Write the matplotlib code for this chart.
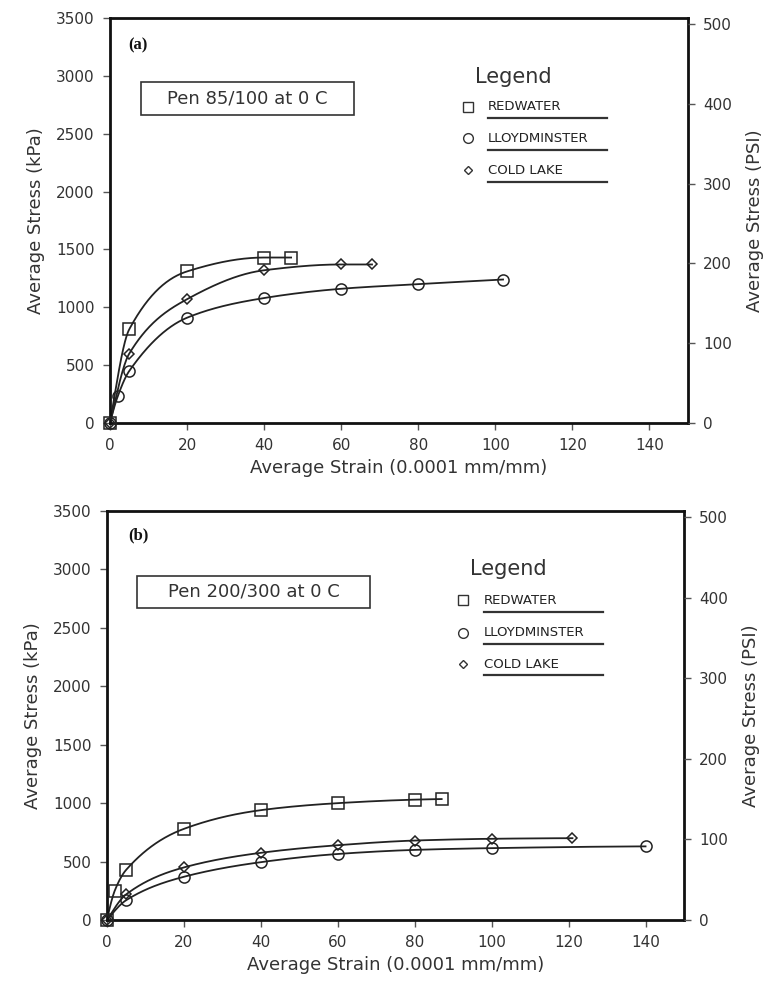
import numpy as np
import matplotlib
matplotlib.use("Agg")
import matplotlib.pyplot as plt

plt.rcParams['font.family'] = ['DejaVu Sans']

# ---------------- data ----------------
# Panel (a): Pen 85/100 at 0 C
a_red_x = [0, 5, 20, 40, 47]
a_red_y = [0, 810, 1310, 1430, 1430]
a_lloyd_x = [0, 2, 5, 20, 40, 60, 80, 102]
a_lloyd_y = [0, 230, 450, 910, 1080, 1160, 1200, 1240]
a_cold_x = [0, 5, 20, 40, 60, 68]
a_cold_y = [0, 600, 1070, 1320, 1370, 1370]

# Panel (b): Pen 200/300 at 0 C
b_red_x = [0, 2, 5, 20, 40, 60, 80, 87]
b_red_y = [0, 250, 430, 780, 940, 1000, 1030, 1035]
b_lloyd_x = [0, 5, 20, 40, 60, 80, 100, 140]
b_lloyd_y = [0, 170, 370, 495, 565, 600, 615, 630]
b_cold_x = [0, 5, 20, 40, 60, 80, 100, 121]
b_cold_y = [0, 220, 450, 575, 640, 680, 695, 700]

series_names = ["REDWATER", "LLOYDMINSTER", "COLD LAKE"]
panel_titles = ["(a)", "(b)"]
panel_boxes = ["Pen 85/100 at 0 C", "Pen 200/300 at 0 C"]
x_ticks = [0, 20, 40, 60, 80, 100, 120, 140]
kpa_ticks = [0, 500, 1000, 1500, 2000, 2500, 3000, 3500]
psi_ticks = [0, 100, 200, 300, 400, 500]
KPA_PER_PSI = 6.895


def pchip(x, y, xs):
    x = np.asarray(x, float); y = np.asarray(y, float)
    h = np.diff(x); d = np.diff(y) / h
    n = len(x)
    m = np.zeros(n)
    for k in range(1, n - 1):
        if d[k - 1] * d[k] <= 0:
            m[k] = 0.0
        else:
            w1 = 2 * h[k] + h[k - 1]
            w2 = h[k] + 2 * h[k - 1]
            m[k] = (w1 + w2) / (w1 / d[k - 1] + w2 / d[k])
    def endslope(h0, h1, d0, d1):
        s = ((2 * h0 + h1) * d0 - h0 * d1) / (h0 + h1)
        if np.sign(s) != np.sign(d0):
            s = 0.0
        elif np.sign(d0) != np.sign(d1) and abs(s) > abs(3 * d0):
            s = 3 * d0
        return s
    if n > 2:
        m[0] = endslope(h[0], h[1], d[0], d[1])
        m[-1] = endslope(h[-1], h[-2], d[-1], d[-2])
    else:
        m[:] = d[0]
    idx = np.clip(np.searchsorted(x, xs) - 1, 0, n - 2)
    t = (xs - x[idx]) / h[idx]
    h00 = 2 * t**3 - 3 * t**2 + 1
    h10 = t**3 - 2 * t**2 + t
    h01 = -2 * t**3 + 3 * t**2
    h11 = t**3 - t**2
    return h00 * y[idx] + h10 * h[idx] * m[idx] + h01 * y[idx + 1] + h11 * h[idx] * m[idx + 1]


W, H = 765, 984
fig = plt.figure(figsize=(W / 100, H / 100), dpi=100)

rects = [
    (110, 18, 688, 423),
    (107, 511, 684, 920),
]
legend_pos = [
    dict(lx=475, ly=77, mx=468, tx=488, ux0=488, ux1=607, ys=[107, 138, 170], uys=[118, 150, 182]),
    dict(lx=470, ly=569, mx=463, tx=484, ux0=484, ux1=603, ys=[600, 633, 664], uys=[612, 644, 675]),
]
box_pos = [(141, 82, 354, 115), (137, 576, 370, 608)]
title_pos = [(128, 45), (128, 535)]

data = [
    [(a_red_x, a_red_y), (a_lloyd_x, a_lloyd_y), (a_cold_x, a_cold_y)],
    [(b_red_x, b_red_y), (b_lloyd_x, b_lloyd_y), (b_cold_x, b_cold_y)],
]
markers = ['s', 'o', 'D']
msizes = [8, 8, 5.5]
txtc = '#333333'

def fx(px):
    return px / W

def fy(py):
    return 1 - py / H

for i in range(2):
    x0, y0, x1, y1 = rects[i]
    ax = fig.add_axes([fx(x0), fy(y1), (x1 - x0) / W, (y1 - y0) / H])
    ax.set_xlim(0, 150)
    ax.set_ylim(0, 3500)
    ax.set_xticks(x_ticks)
    ax.set_yticks(kpa_ticks)
    for sp in ax.spines.values():
        sp.set_linewidth(2.0)
        sp.set_color('#111111')
    ax.tick_params(direction='out', length=5, width=1, colors='#555555',
                   labelcolor=txtc, labelsize=11, pad=6)
    ax.set_xlabel("Average Strain (0.0001 mm/mm)", fontsize=13, color=txtc, labelpad=4)
    ax.set_ylabel("Average Stress (kPa)", fontsize=13, color=txtc, labelpad=8)

    for (xs, ys), mk, ms in zip(data[i], markers, msizes):
        xx = np.linspace(xs[0], xs[-1], 400)
        ax.plot(xx, pchip(xs, ys, xx), color='#222222', lw=1.3, zorder=2)
        ax.plot(xs, ys, linestyle='none', marker=mk, ms=ms, mfc='none',
                mec='#222222', mew=1.1, zorder=3, clip_on=False)

    ax2 = ax.twinx()
    ax2.set_ylim(0, 3500 / KPA_PER_PSI)
    ax2.set_yticks(psi_ticks)
    ax2.tick_params(direction='out', length=5, width=1, colors='#555555',
                    labelcolor=txtc, labelsize=11, pad=6)
    for sp in ax2.spines.values():
        sp.set_visible(False)
    ax2.set_ylabel("Average Stress (PSI)", fontsize=13, color=txtc, labelpad=10)

    # panel letter
    tx, ty = title_pos[i]
    fig.text(fx(tx), fy(ty), panel_titles[i], fontsize=12, fontweight='bold',
             family='Liberation Serif', va='center', ha='left', color='#111111')

    # boxed label
    bx0, by0, bx1, by1 = box_pos[i]
    fig.patches.append(matplotlib.patches.Rectangle(
        (fx(bx0), fy(by1)), (bx1 - bx0) / W, (by1 - by0) / H,
        transform=fig.transFigure, fill=False, lw=1.2, ec='#333333'))
    fig.text(fx((bx0 + bx1) / 2), fy((by0 + by1) / 2), panel_boxes[i],
             fontsize=13, ha='center', va='center', color=txtc)

    # legend
    lp = legend_pos[i]
    fig.text(fx(lp['lx']), fy(lp['ly']), "Legend", fontsize=15, ha='left',
             va='center', color=txtc)
    for name, mk, ms, yy, uy in zip(series_names, markers, msizes, lp['ys'], lp['uys']):
        fig.lines.append(matplotlib.lines.Line2D(
            [fx(lp['mx'])], [fy(yy)], transform=fig.transFigure, marker=mk,
            ms=ms - 1, mfc='none', mec='#333333', mew=1.0, linestyle='none'))
        fig.text(fx(lp['tx']), fy(yy), name, fontsize=9.5, ha='left',
                 va='center', color='#222222')
        fig.lines.append(matplotlib.lines.Line2D(
            [fx(lp['ux0']), fx(lp['ux1'])], [fy(uy), fy(uy)],
            transform=fig.transFigure, color='#333333', lw=1.6))

fig.savefig("out.png", dpi=100)
